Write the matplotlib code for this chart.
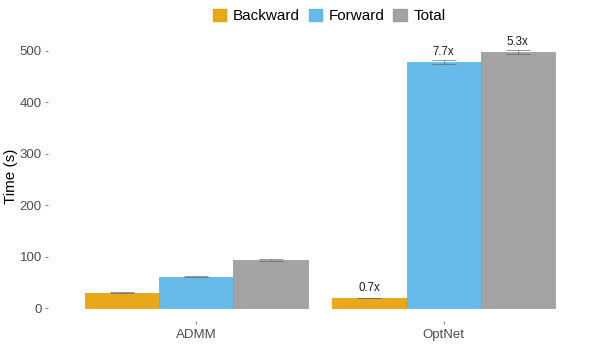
import matplotlib
matplotlib.use("Agg")
import matplotlib.pyplot as plt
from matplotlib.patches import Patch
from matplotlib.colors import to_rgba
import numpy as np

plt.rcParams['font.family'] = ['Liberation Sans', 'DejaVu Sans']

methods = ["ADMM", "OptNet"]
series = ["Backward", "Forward", "Total"]
values = {
    "Backward": [30.3, 19.4],
    "Forward": [61.4, 478.0],
    "Total": [93.2, 497.7],
}
errors = {
    "Backward": [1.0, 0.6],
    "Forward": [1.2, 4.0],
    "Total": [1.5, 4.0],
}
speedup_labels = {
    "Backward": [None, "0.7x"],
    "Forward": [None, "7.7x"],
    "Total": [None, "5.3x"],
}
colors = {"Backward": "#E69F00", "Forward": "#56B4E9", "Total": "#999999"}

fig = plt.figure(figsize=(5.98, 3.59), dpi=100)
ax = fig.add_axes([48/598, 38/359, 544/598, 284/359])

x = np.arange(1, len(methods) + 1)
width = 0.3
for i, s in enumerate(series):
    pos = x + (i - 1) * width
    ax.bar(pos, values[s], width=width, color=colors[s], alpha=0.9,
           edgecolor=to_rgba(colors[s], 0.55), linewidth=0.6, zorder=2)
    ax.errorbar(pos, values[s], yerr=errors[s], fmt='none', ecolor='#666666',
                elinewidth=0.6, capsize=8.5, capthick=0.6, alpha=0.8, zorder=3)
    for p, v, lab in zip(pos, values[s], speedup_labels[s]):
        if lab:
            ax.text(p, v + 14, lab, ha='center', va='baseline', fontsize=8.3,
                    color='#1a1a1a')

ax.set_xlim(0.4, 2.6)
ax.set_ylim(-25, 527)
ax.set_yticks([0, 100, 200, 300, 400, 500])
ax.set_xticks(x)
ax.set_xticklabels(methods)
for sp in ax.spines.values():
    sp.set_visible(False)
ax.tick_params(axis='both', colors='#555555', labelcolor='#4D4D4D',
               labelsize=9.5, length=2.5, width=0.5, pad=2)
ax.tick_params(axis='x', pad=3)
ax.set_ylabel("Time (s)", fontsize=11, color='black', labelpad=4)
ax.yaxis.set_label_coords(-30/544, 0.51)

handles = [Patch(facecolor=colors[s], alpha=0.9, edgecolor=to_rgba(colors[s], 0.55))
           for s in series]
fig.legend(handles, series, loc='center', bbox_to_anchor=(329/598, 1 - 16/359),
           ncol=3, frameon=False, fontsize=11, handlelength=0.9,
           handleheight=0.9, handletextpad=0.4, columnspacing=0.6)

fig.savefig("out.png", dpi=100)
